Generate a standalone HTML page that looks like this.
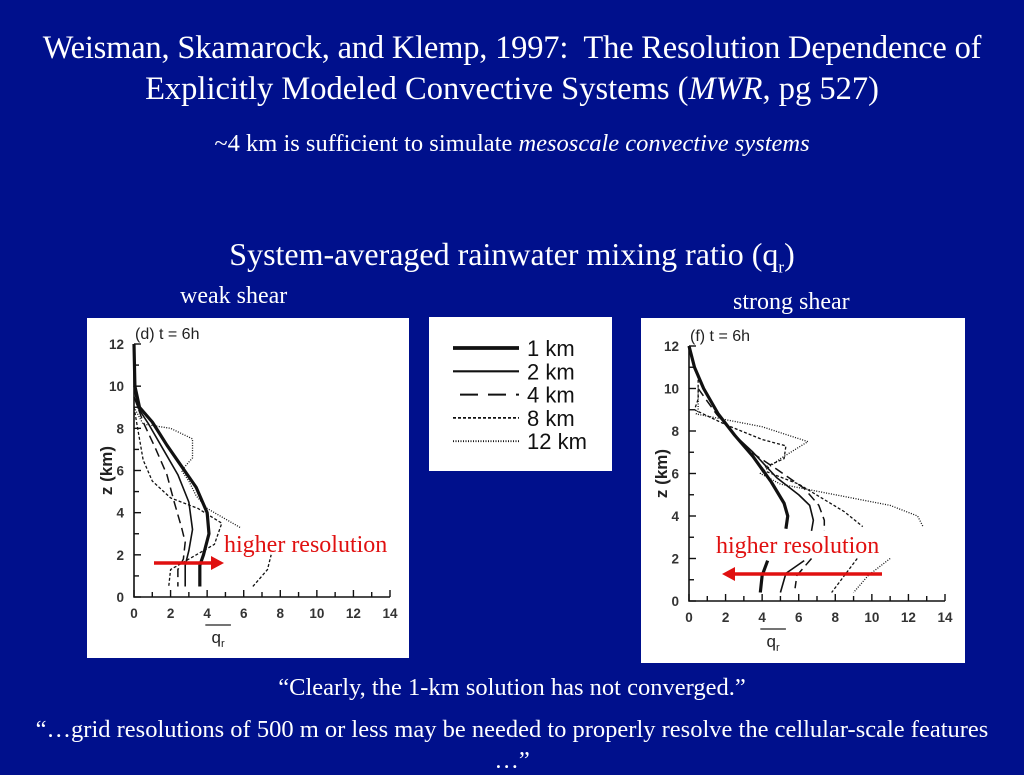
<!DOCTYPE html>
<html><head><meta charset="utf-8"><style>
body{margin:0;width:1024px;height:768px;background:#00108c;overflow:hidden;position:relative;font-family:"Liberation Serif",serif;color:#fff}
.t{position:absolute;white-space:nowrap}
.panel{position:absolute;background:#fff}
</style></head><body>
<div class="t" style="left:0;width:1024px;text-align:center;top:30px;font-size:32.5px;letter-spacing:-0.2px">Weisman, Skamarock, and Klemp, 1997:&nbsp; The Resolution Dependence of</div>
<div class="t" style="left:0;width:1024px;text-align:center;top:71px;font-size:32.5px">Explicitly Modeled Convective Systems (<i>MWR</i>, pg 527)</div>
<div class="t" style="left:0;width:1024px;text-align:center;top:130px;font-size:24.5px">~4 km is sufficient to simulate <i>mesoscale convective systems</i></div>
<div class="t" style="left:0;width:1024px;text-align:center;top:236px;font-size:32px">System-averaged rainwater mixing ratio (q<sub style="font-size:17px">r</sub>)</div>
<div class="t" style="left:180px;top:283px;font-size:24px">weak shear</div>
<div class="t" style="left:733px;top:289px;font-size:24px">strong shear</div>
<div class="t" style="left:0;width:1024px;text-align:center;top:674px;font-size:24.5px">“Clearly, the 1-km solution has not converged.”</div>
<div class="t" style="left:0;width:1024px;text-align:center;top:716px;font-size:24.5px">“…grid resolutions of 500 m or less may be needed to properly resolve the cellular-scale features</div>
<div class="t" style="left:0;width:1024px;text-align:center;top:747px;font-size:24.5px">…”</div>

<div class="panel" style="left:429px;top:317px;width:183px;height:154px"></div>
<div class="panel" style="left:87px;top:318px;width:322px;height:340px"></div>
<div class="panel" style="left:641px;top:318px;width:324px;height:345px"></div>
<svg id="svg" width="1024" height="768" style="position:absolute;left:0;top:0"></svg>
<script>
const seriesNames=["1 km","2 km","4 km","8 km","12 km"];
const xTicks=[0,2,4,6,8,10,12,14];
const yTicks=[0,2,4,6,8,10,12];
// weak shear [q, z]
const weak1=[[[0,12],[0.05,10],[0.3,9],[1,8.3],[1.8,7.2],[2.6,6.2],[3.4,5.2],[4,4],[4.1,3],[3.8,2],[3.6,1.5],[3.6,0.5]]];
const weak2=[[[0,10],[0.2,9],[0.8,8.2],[1.6,7],[2.4,5.8],[3,4.5],[3.2,3.2],[3,2.2],[2.8,1.5],[2.8,0.5]]];
const weak4=[[[0,9.5],[0.5,8.3],[1.2,7],[1.8,5.8],[2.2,4.5],[2.6,3.3],[2.8,2.6],[2.7,1.8],[2.4,1.3],[2.4,0.5]]];
const weak8=[[[0,9],[0.2,8],[0.5,6.5],[1,5.5],[2,4.7],[3.5,4.2],[4.8,3.5],[4.4,2.5],[3,1.8],[2,1.3],[1.9,0.5]],[[6.5,0.5],[7.3,1.3],[7.5,2]]];
const weak12=[[[0,9],[0.5,8.2],[2,8],[3.2,7.5],[3.2,6.6],[2.6,6],[3,5.5],[3.4,4.8],[4,4.2],[5.8,3.3]]];
// strong shear
const strong1=[[[0,12],[0.3,11],[0.8,10],[1.6,8.8],[2.5,7.8],[3.5,6.8],[4.5,5.6],[5.2,4.6],[5.4,4],[5.3,3.4]],[[4.3,1.9],[4,1.2],[3.9,0.4]]];
const strong2=[[[0,12],[0.3,11],[0.8,10],[1.6,8.8],[2.5,7.8],[3.5,7],[4.8,5.8],[6,5],[6.6,4.5],[6.8,3.8],[6.7,3.3]],[[6.3,1.9],[5.3,1.3],[5,0.4]]];
const strong4=[[[0.5,10],[1.5,8.8],[2.5,7.8],[3.4,7],[4.8,6.2],[6.3,5.3],[7.1,4.5],[7.4,3.8],[7.4,3.3]],[[6.7,2],[5.9,1.2],[5.8,0.6]]];
const strong8=[[[0,12],[0.5,10.5],[0.5,9.5],[0.3,9],[2,8.3],[4,7.6],[5.3,7.3],[5.2,6.7],[3.9,6.2],[6,5.5],[8.5,4.2],[9.5,3.5]],[[9.2,2],[8.5,1.2],[7.8,0.4]]];
const strong12=[[[0.5,10],[0.5,9],[0.4,8.8],[4,8.2],[6.5,7.5],[5,6.7],[3.9,6],[5,5.5],[8,5],[11,4.5],[12.5,4],[12.8,3.5]],[[11,2],[9.8,1.2],[9,0.4]]];

const NS="http://www.w3.org/2000/svg";
const svg=document.getElementById('svg');
const styles=[{w:3.2,d:""},{w:1.6,d:""},{w:1.5,d:"9 5"},{w:1.3,d:"3 2"},{w:1.3,d:"1 1.5"}];
function mk(tag,attrs){const e=document.createElementNS(NS,tag);for(const k in attrs)e.setAttribute(k,attrs[k]);svg.appendChild(e);return e;}
function chart(name,ax,series){
  const X=v=>ax.x0+v*(ax.x1-ax.x0)/14, Y=v=>ax.y0-v*(ax.y0-ax.y1)/12;
  let e=mk('path',{d:`M${X(0)},${Y(12)}V${Y(0)}H${X(14)}`,stroke:'#111',fill:'none','stroke-width':1.6});
  
  
  xTicks.forEach(t=>{
    for(const s of [0,1]){const v=t+s;if(v>14)continue;
      const l=mk('line',{x1:X(v),x2:X(v),y1:Y(0),y2:Y(0)-(s?5:7),stroke:'#111','stroke-width':1.4});
      
      }
    const tx=mk('text',{x:X(t),y:Y(0)+21,'text-anchor':'middle','font-size':13.5,'font-weight':'bold','font-family':'Liberation Sans, sans-serif',fill:'#333'});
    tx.textContent=t;
    
    
  });
  yTicks.forEach(t=>{
    for(const s of [0,1]){const v=t+s;if(v>12)continue;
      const l=mk('line',{x1:X(0),x2:X(0)+(s?5:7),y1:Y(v),y2:Y(v),stroke:'#111','stroke-width':1.4});
      
      }
    const tx=mk('text',{x:X(0)-10,y:Y(t)+5,'text-anchor':'end','font-size':13.5,'font-weight':'bold','font-family':'Liberation Sans, sans-serif',fill:'#333'});
    tx.textContent=t;
    
    
  });
  let yl=mk('text',{x:0,y:0,transform:`translate(${X(0)-22},${Y(6)}) rotate(-90)`,'text-anchor':'middle','font-size':17,'font-weight':'bold','font-family':'Liberation Sans, sans-serif',fill:'#222'});
  yl.textContent='z (km)';
  
  
  let xl=mk('text',{x:X(4.6),y:Y(0)+46,'text-anchor':'middle','font-size':17,'font-family':'Liberation Sans, sans-serif',fill:'#222'});
  xl.innerHTML='q<tspan dy="4" font-size="11">r</tspan>';
  
  
  mk('line',{x1:X(3.9),x2:X(5.3),y1:Y(0)+28,y2:Y(0)+28,stroke:'#222','stroke-width':1.2});
  let pl=mk('text',{x:X(0)+1,y:Y(12)-5,'font-size':16,'font-family':'Liberation Sans, sans-serif',fill:'#222'});
  pl.textContent=ax.label;
  
  
  series.forEach((segs,i)=>segs.forEach(pts=>{
    const p=mk('polyline',{points:pts.map(q=>X(q[0])+','+Y(q[1])).join(' '),fill:'none',stroke:'#111','stroke-width':styles[i].w,'stroke-dasharray':styles[i].d,'stroke-linejoin':'round'});
    
    
  }));
}
chart('weak-shear',{x0:134,x1:390,y0:597,y1:344,label:'(d) t = 6h'},[weak1,weak2,weak4,weak8,weak12]);
chart('strong-shear',{x0:689,x1:945,y0:601,y1:346,label:'(f) t = 6h'},[strong1,strong2,strong4,strong8,strong12]);
// legend
seriesNames.forEach((n,i)=>{
  const y=348+i*23.3;
  const l=mk('line',{x1:i==2?460:453,x2:519,y1:y,y2:y,stroke:'#111','stroke-width':styles[i].w+0.5,'stroke-dasharray':i==2?"18 10":styles[i].d});
  
  
  const t=mk('text',{x:527,y:y+8,'font-size':22,'font-family':'Liberation Sans, sans-serif',fill:'#111'});
  t.textContent=n;
  
  
});
// arrows and annotations
function arrow(x1,x2,y,name){
  const dir=Math.sign(x2-x1);
  const l=mk('line',{x1:x1,x2:x2-dir*10,y1:y,y2:y,stroke:'#e01010','stroke-width':3.5});
  
  
  mk('polygon',{points:`${x2},${y} ${x2-dir*13},${y-7} ${x2-dir*13},${y+7}`,fill:'#e01010'});
}
arrow(154,224,563,'weak-arrow');
arrow(882,722,574,'strong-arrow');
[['weak-annotation',224,552],['strong-annotation',716,553]].forEach(a=>{
  const t=mk('text',{x:a[1],y:a[2],'font-size':24,'font-family':'Liberation Serif, serif',fill:'#e01010'});
  t.textContent='higher resolution';
  
  
});
</script>
</body></html>
